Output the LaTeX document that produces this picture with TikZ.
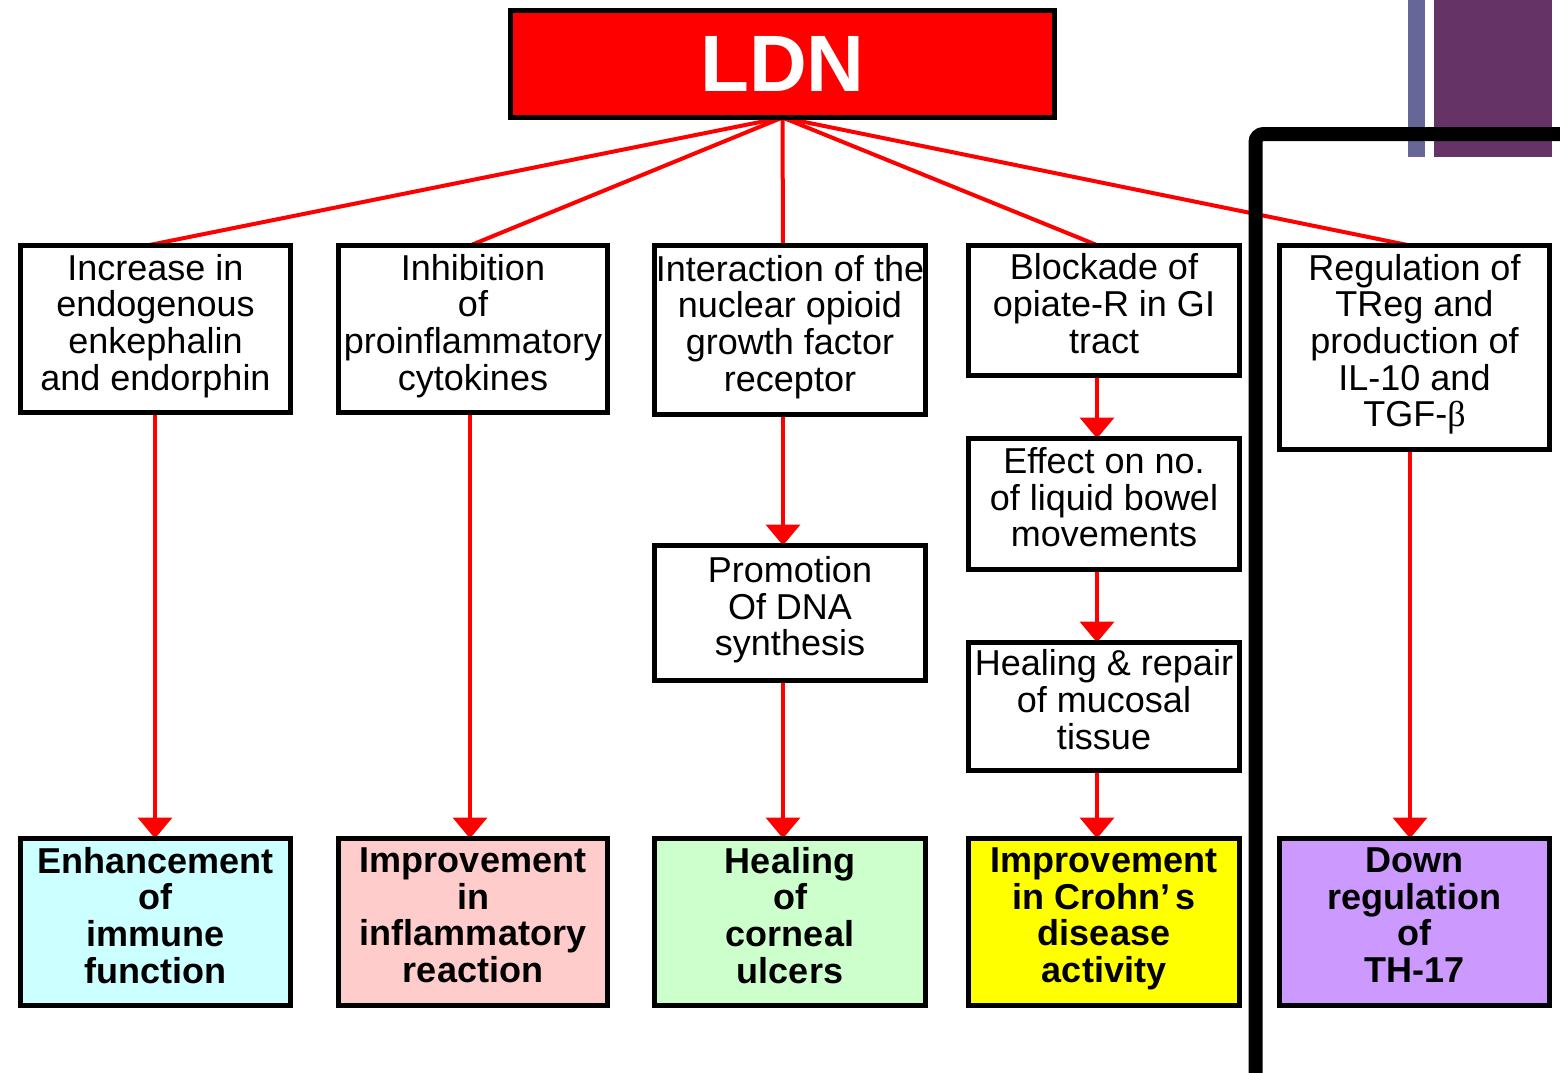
\documentclass[tikz,border=0pt]{standalone}
\usepackage{fontspec}
\setmainfont{Liberation Sans}
\newfontfamily\serifgreek{Liberation Serif}
\usetikzlibrary{arrows.meta}
\definecolor{ldnred}{HTML}{FF0000}
\definecolor{rescyan}{HTML}{CCFFFF}
\definecolor{respink}{HTML}{FFCCCC}
\definecolor{resgreen}{HTML}{CCFFCC}
\definecolor{resyellow}{HTML}{FFFF00}
\definecolor{respurple}{HTML}{CC99FF}
\definecolor{barlav}{HTML}{666699}
\definecolor{barpur}{HTML}{663366}
\newcommand\boxstrut{\rule[-14pt]{0pt}{26pt}}
\pgfdeclarelayer{paper}
\pgfdeclarelayer{lines}
\pgfdeclarelayer{top}
\pgfsetlayers{paper,lines,main,top}
\begin{document}
\begin{tikzpicture}[x=1pt,y=-1pt,
  box/.style={draw=black,line width=5pt,fill=white,align=center,inner sep=0pt,outer sep=0pt,
    minimum width=271pt,font=\fontsize{36}{36.7}\selectfont,
    execute at begin node={\boxstrut},execute at end node={\boxstrut}},
  res/.style={box,minimum height=167pt,font=\fontsize{36}{36.7}\selectfont\bfseries},
  link/.style={draw=ldnred,line width=4pt},
  arr/.style={link,-{Triangle[width=34pt,length=21pt]}}]
\useasboundingbox (0,0) rectangle (1560,1072);
\begin{pgfonlayer}{paper}
  \fill[white] (0,0) rectangle (1560,1072);
  \fill[barlav] (1408,-5) rectangle (1425,157);
  \fill[barpur] (1434,-5) rectangle (1552,157);
\end{pgfonlayer}

\node[draw=black,line width=5pt,fill=ldnred,inner sep=0pt,outer sep=0pt,
  minimum width=544pt,minimum height=107pt,text=white,
  font=\fontsize{80}{80}\selectfont\bfseries] (ldn) at (782.5,64) {LDN};

\node[box,minimum height=167pt,minimum width=270pt] (t1) at (155.5,329) {Increase in\\endogenous\\enkephalin\\and endorphin};
\node[box,minimum height=167pt,minimum width=269pt] (t2) at (473,329) {Inhibition\\of\\proinflammatory\\cytokines};
\node[box,minimum height=169pt] (t3) at (790,330) {Interaction of the\\nuclear opioid\\growth factor\\receptor};
\node[box,minimum height=130pt] (t4) at (1104,310.5) {Blockade of\\opiate-R in GI\\tract};
\node[box,minimum height=204pt,minimum width=270pt] (t5) at (1414.5,347.5) {Regulation of\\TReg and\\production of\\IL-10 and\\TGF-{\serifgreek β}};

\node[box,minimum height=135pt] (m3) at (790,613) {Promotion\\Of DNA\\synthesis};
\node[box,minimum height=131pt] (m4a) at (1104,504) {Effect on no.\\of liquid bowel\\movements};
\node[box,minimum height=128pt] (m4b) at (1104,706.5) {Healing \& repair\\of mucosal\\tissue};

\node[res,fill=rescyan,minimum width=270pt] (b1) at (155.5,922) {Enhancement\\of\\immune\\function};
\node[res,fill=respink,minimum width=269pt] (b2) at (473,922) {Improvement\\in\\inflammatory\\reaction};
\node[res,fill=resgreen] (b3) at (790,922) {Healing\\of\\corneal\\ulcers};
\node[res,fill=resyellow] (b4) at (1104,922) {Improvement\\in Crohn’\hspace{5pt}s\\disease\\activity};
\node[res,fill=respurple,minimum width=270pt] (b5) at (1414.5,922) {Down\\regulation\\of\\TH-17};

\begin{pgfonlayer}{lines}
  \draw[link] (ldn.south) -- ([xshift=-8.5pt]t1.north);
  \draw[link] (ldn.south) -- ([xshift=-3pt]t2.north);
  \draw[link] (ldn.south) -- ([xshift=-7pt]t3.north);
  \draw[link] (ldn.south) -- ([xshift=-6pt]t4.north);
  \draw[link] (ldn.south) -- ([xshift=-4.5pt]t5.north);

  \draw[arr] ([xshift=-0.5pt]t1.south) -- ([xshift=-0.5pt]b1.north);
  \draw[arr] ([xshift=-3pt]t2.south) -- ([xshift=-3pt]b2.north);
  \draw[arr] ([xshift=-7pt]t3.south) -- ([xshift=-7pt]m3.north);
  \draw[arr] ([xshift=-7pt]m3.south) -- ([xshift=-7pt]b3.north);
  \draw[arr] ([xshift=-7pt]t4.south) -- ([xshift=-7pt]m4a.north);
  \draw[arr] ([xshift=-7pt]m4a.south) -- ([xshift=-7pt]m4b.north);
  \draw[arr] ([xshift=-7pt]m4b.south) -- ([xshift=-7pt]b4.north);
  \draw[arr] ([xshift=-4.5pt]t5.south) -- ([xshift=-4.5pt]b5.north);
\end{pgfonlayer}

\begin{pgfonlayer}{top}
  \draw[black,line width=14pt,rounded corners=8pt] (1255.5,1095) -- (1255.5,134) -- (1585,134);
\end{pgfonlayer}
\end{tikzpicture}
\end{document}
